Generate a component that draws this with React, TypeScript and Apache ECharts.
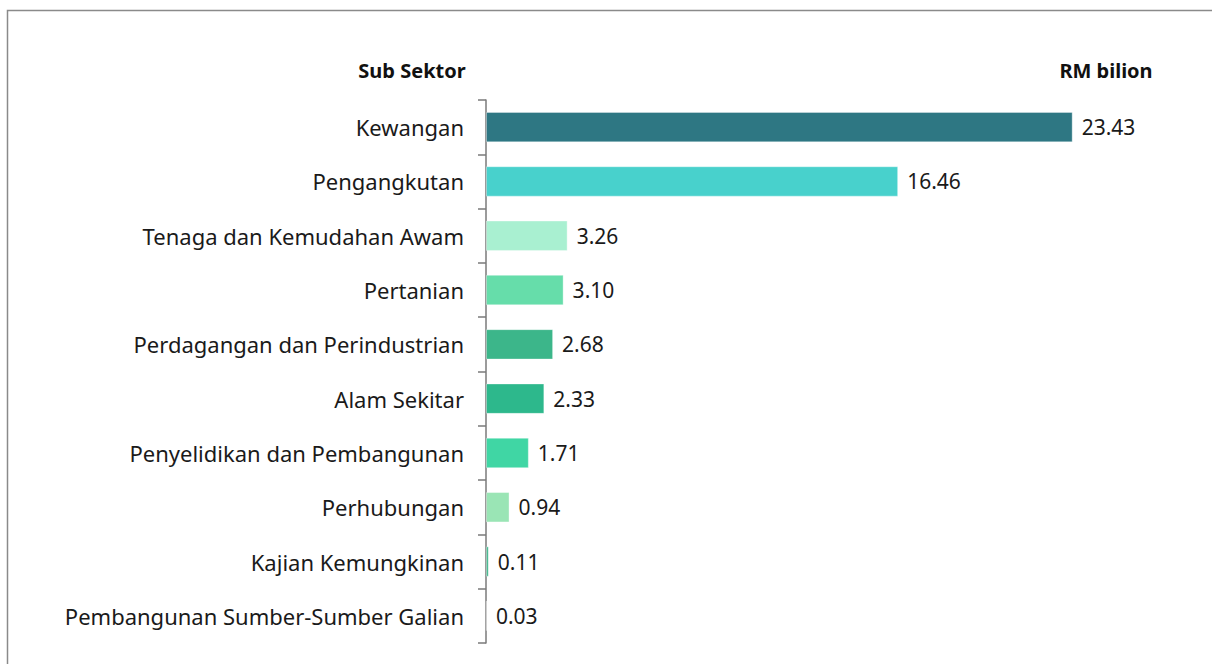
import React, { useEffect, useRef } from "react";
import * as echarts from "echarts";

const categories = [
  "Kewangan",
  "Pengangkutan",
  "Tenaga dan Kemudahan Awam",
  "Pertanian",
  "Perdagangan dan Perindustrian",
  "Alam Sekitar",
  "Penyelidikan dan Pembangunan",
  "Perhubungan",
  "Kajian Kemungkinan",
  "Pembangunan Sumber-Sumber Galian",
];
const values = [23.43, 16.46, 3.26, 3.1, 2.68, 2.33, 1.71, 0.94, 0.11, 0.03];
const barColors = [
  "#2E7783",
  "#48D1CC",
  "#A9F0D1",
  "#66DDAA",
  "#3CB68A",
  "#2DB88C",
  "#40D6A4",
  "#9AE5B5",
  "#3CB68A",
  "#3CB68A",
];
const leftHeader = "Sub Sektor";
const rightHeader = "RM bilion";

const FONT = "'Noto Sans', 'Open Sans', sans-serif";

export default function App() {
  const ref = useRef<HTMLDivElement>(null);
  useEffect(() => {
    if (!ref.current) return;
    const chart = echarts.init(ref.current, undefined, { renderer: "svg" });
    chart.setOption({
      animation: false,
      backgroundColor: "#ffffff",
      grid: { left: 486, right: 100, top: 100, bottom: 21, containLabel: false },
      xAxis: {
        type: "value",
        min: 0,
        max: 25,
        show: false,
      },
      yAxis: {
        type: "category",
        data: categories,
        inverse: true,
        axisLine: { show: true, lineStyle: { color: "#7a7a7a", width: 1.5 } },
        axisTick: { show: true, length: 8, lineStyle: { color: "#7a7a7a", width: 1.5 } },
        axisLabel: {
          color: "#1a1a1a",
          fontSize: 22,
          fontFamily: FONT,
          margin: 22,
        },
        splitLine: { show: false },
      },
      series: [
        {
          type: "bar",
          data: values.map((v, i) => ({
            value: v,
            itemStyle: { color: barColors[i] },
          })),
          barCategoryGap: "44%",
          itemStyle: { borderColor: "rgba(255,255,255,0.35)", borderWidth: 1 },
          label: {
            show: true,
            position: "right",
            distance: 9,
            formatter: (p: any) => Number(p.value).toFixed(2),
            color: "#1a1a1a",
            fontSize: 21,
            fontFamily: FONT,
          },
        },
      ],
      graphic: [
        {
          type: "rect",
          shape: { x: 7.5, y: 10.5, width: 1300, height: 800 },
          style: { fill: "none", stroke: "#8a8a8a", lineWidth: 1.5 },
          silent: true,
        },
        {
          type: "text",
          x: 412,
          y: 70,
          style: {
            text: leftHeader,
            fontSize: 20,
            fontWeight: "bold",
            fontFamily: FONT,
            fill: "#111",
            align: "center",
            verticalAlign: "middle",
          },
        },
        {
          type: "text",
          x: 1106,
          y: 70,
          style: {
            text: rightHeader,
            fontSize: 20,
            fontWeight: "bold",
            fontFamily: FONT,
            fill: "#111",
            align: "center",
            verticalAlign: "middle",
          },
        },
      ],
    });
    return () => chart.dispose();
  }, []);
  return (
    <div
      ref={ref}
      style={{ position: "absolute", left: 0, top: 0, width: 1212, height: 664 }}
    />
  );
}
